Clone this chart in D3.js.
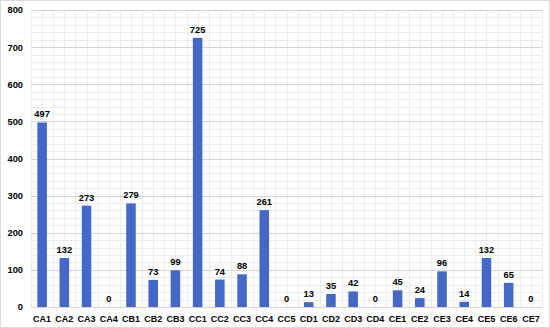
<!DOCTYPE html>
<html>
<head>
<meta charset="utf-8">
<script src="https://cdn.jsdelivr.net/npm/d3@7"></script>
<style>
  body { margin: 0; background: #fff; }
  svg { display: block; font-family: "Liberation Sans", Arial, sans-serif; }
</style>
</head>
<body>
<div id="chart"></div>
<script>
const categories = ["CA1", "CA2", "CA3", "CA4", "CB1", "CB2", "CB3", "CC1", "CC2", "CC3", "CC4", "CC5",
    "CD1", "CD2", "CD3", "CD4", "CE1", "CE2", "CE3", "CE4", "CE5", "CE6", "CE7"];
const counts = [497, 132, 273, 0, 279, 73, 99, 725, 74, 88, 261, 0,
    13, 35, 42, 0, 45, 24, 96, 14, 132, 65, 0];
const yTicks = [0, 100, 200, 300, 400, 500, 600, 700, 800];

function renderChart() {
    const width = 550;
    const height = 328;
    const margin = { top: 10, right: 8, bottom: 21, left: 31 };

    const data = categories.map((c, i) => ({ name: c, value: counts[i] }));

    const svg = d3.select("#chart").append("svg")
        .attr("width", width)
        .attr("height", height);

    // chart border
    svg.append("rect")
        .attr("x", 0.5).attr("y", 0.5)
        .attr("width", width - 1).attr("height", height - 1)
        .attr("fill", "none")
        .attr("stroke", "#d9d9d9");

    const xScale = d3.scaleBand()
        .domain(categories)
        .range([margin.left, width - margin.right])
        .paddingInner(0.57)
        .paddingOuter(0.285);

    const yScale = d3.scaleLinear()
        .domain([0, 800])
        .range([height - margin.bottom, margin.top]);

    const plotLeft = margin.left;
    const plotRight = width - margin.right;
    const half = xScale.step() / 2;

    // minor horizontal grid
    svg.append("g")
        .selectAll("line")
        .data(d3.range(0, 801, 20).filter(v => v % 100 !== 0))
        .enter().append("line")
        .attr("x1", plotLeft).attr("x2", plotRight)
        .attr("y1", d => Math.round(yScale(d)) + 0.5)
        .attr("y2", d => Math.round(yScale(d)) + 0.5)
        .attr("stroke", "#ececec");

    // vertical grid (every half category)
    svg.append("g")
        .selectAll("line")
        .data(d3.range(0, categories.length * 2 + 1))
        .enter().append("line")
        .attr("x1", d => Math.round(plotLeft + d * half) + 0.5)
        .attr("x2", d => Math.round(plotLeft + d * half) + 0.5)
        .attr("y1", yScale(800))
        .attr("y2", yScale(0))
        .attr("stroke", "#ececec");

    // major horizontal grid
    svg.append("g")
        .selectAll("line")
        .data(yTicks)
        .enter().append("line")
        .attr("x1", plotLeft).attr("x2", plotRight)
        .attr("y1", d => Math.round(yScale(d)) + 0.5)
        .attr("y2", d => Math.round(yScale(d)) + 0.5)
        .attr("stroke", "#d4d4d4");

    svg.selectAll(".bar")
        .data(data)
        .enter()
        .append("rect")
        .attr("class", "bar")
        .attr("x", d => xScale(d.name))
        .attr("y", d => yScale(d.value))
        .attr("width", xScale.bandwidth())
        .attr("height", d => yScale(0) - yScale(d.value))
        .attr("fill", "#4468c8");

    // value labels
    svg.selectAll(".val")
        .data(data)
        .enter()
        .append("text")
        .attr("class", "val")
        .attr("x", d => xScale(d.name) + xScale.bandwidth() / 2)
        .attr("y", d => yScale(d.value) - 5)
        .attr("text-anchor", "middle")
        .style("font-size", "9.3px")
        .style("font-weight", "bold")
        .attr("fill", "#000")
        .text(d => d.value);

    // y axis labels
    svg.append("g")
        .attr("transform", `translate(${margin.left - 8},0)`)
        .call(d3.axisLeft(yScale).tickValues(yTicks).tickSize(0).tickPadding(0))
        .call(g => g.select(".domain").remove())
        .selectAll("text")
        .style("font-size", "9.3px")
        .style("font-weight", "bold")
        .style("font-family", "Liberation Sans, Arial, sans-serif")
        .attr("fill", "#000");

    // x axis labels
    svg.append("g")
        .attr("transform", `translate(0,${height - margin.bottom})`)
        .call(d3.axisBottom(xScale).tickSize(0).tickPadding(9))
        .call(g => g.select(".domain").remove())
        .selectAll("text")
        .style("font-size", "9px")
        .style("font-weight", "bold")
        .style("font-family", "Liberation Sans, Arial, sans-serif")
        .attr("fill", "#000");
}

window.onload = () => renderChart();
</script>
</body>
</html>
